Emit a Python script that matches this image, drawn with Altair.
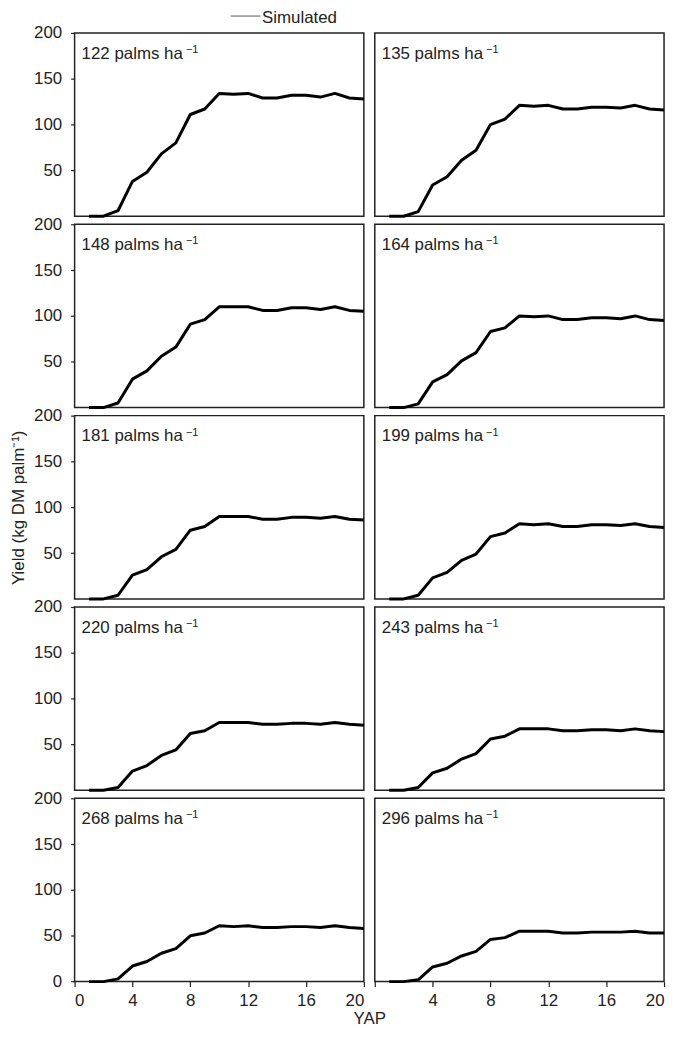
import altair as alt
import pandas as pd

years = [1, 2, 3, 4, 5, 6, 7, 8, 9, 10, 11, 12, 13, 14, 15, 16, 17, 18, 19, 20]
densities = ["122", "135", "148", "164", "181", "199", "220", "243", "268", "296"]
legend_labels = ["Simulated"]

y122 = [0, 0, 6, 38, 48, 68, 80, 111, 117, 134, 133, 134, 129, 129, 132, 132, 130, 134, 129, 128]
y135 = [0, 0, 5, 34, 43, 61, 72, 100, 106, 121, 120, 121, 117, 117, 119, 119, 118, 121, 117, 116]
y148 = [0, 0, 5, 31, 40, 56, 66, 91, 96, 110, 110, 110, 106, 106, 109, 109, 107, 110, 106, 105]
y164 = [0, 0, 4, 28, 36, 51, 60, 83, 87, 100, 99, 100, 96, 96, 98, 98, 97, 100, 96, 95]
y181 = [0, 0, 4, 26, 32, 46, 54, 75, 79, 90, 90, 90, 87, 87, 89, 89, 88, 90, 87, 86]
y199 = [0, 0, 4, 23, 29, 42, 49, 68, 72, 82, 81, 82, 79, 79, 81, 81, 80, 82, 79, 78]
y220 = [0, 0, 3, 21, 27, 38, 44, 62, 65, 74, 74, 74, 72, 72, 73, 73, 72, 74, 72, 71]
y243 = [0, 0, 3, 19, 24, 34, 40, 56, 59, 67, 67, 67, 65, 65, 66, 66, 65, 67, 65, 64]
y268 = [0, 0, 3, 17, 22, 31, 36, 50, 53, 61, 60, 61, 59, 59, 60, 60, 59, 61, 59, 58]
y296 = [0, 0, 2, 16, 20, 28, 33, 46, 48, 55, 55, 55, 53, 53, 54, 54, 54, 55, 53, 53]
series = [y122, y135, y148, y164, y181, y199, y220, y243, y268, y296]

x_ticks = [0, 4, 8, 12, 16, 20]
y_ticks_full = [0, 50, 100, 150, 200]
y_ticks_upper = [50, 100, 150, 200]

FONT = "Liberation Sans"
W, H = 291, 184.4
INK = "#222222"
FS = 17


def panel(i):
    row, col = divmod(i, 2)
    left = col == 0
    bottom = row == 4
    df = pd.DataFrame({"YAP": years, "Yield": series[i]})

    if bottom and left:
        xaxis = alt.Axis(values=x_ticks, title="YAP", titleX=W + 5.5)
    elif bottom:
        xaxis = alt.Axis(values=x_ticks, title=None,
                         labelExpr="datum.value == 0 ? '' : datum.label")
    else:
        xaxis = None

    if left:
        if row == 2:
            yaxis = alt.Axis(values=y_ticks_upper, title="Yield (kg DM palm⁻¹)")
        else:
            yaxis = alt.Axis(values=y_ticks_full if bottom else y_ticks_upper, title=None)
    else:
        yaxis = None

    line = alt.Chart(df).mark_line(strokeWidth=3, strokeJoin="round", color="black").encode(
        x=alt.X("YAP:Q", scale=alt.Scale(domain=[0, 20], nice=False), axis=xaxis),
        y=alt.Y("Yield:Q", scale=alt.Scale(domain=[0, 200], nice=False), axis=yaxis),
    )
    lab = pd.DataFrame({"label": [densities[i] + " palms ha"], "sup": ["−1"]})
    text = alt.Chart(lab).mark_text(
        align="left", baseline="alphabetic", fontSize=FS, font=FONT, color=INK
    ).encode(text="label:N", x=alt.value(7), y=alt.value(26))
    sup = alt.Chart(lab).mark_text(
        align="left", baseline="alphabetic", fontSize=11, font=FONT, color=INK
    ).encode(text="sup:N", x=alt.value(112), y=alt.value(20))
    layers = [line, text, sup]

    if i == 0:
        leg = pd.DataFrame({"name": legend_labels})
        leg_line = alt.Chart(leg).mark_rule(color="#555555", strokeWidth=1).encode(
            x=alt.value(157), x2=alt.value(187), y=alt.value(-17)
        )
        leg_text = alt.Chart(leg).mark_text(
            align="left", baseline="middle", fontSize=FS, font=FONT, color=INK
        ).encode(text="name:N", x=alt.value(188.5), y=alt.value(-15))
        layers += [leg_line, leg_text]

    return alt.layer(*layers).properties(width=W, height=H)


chart = alt.concat(
    *[panel(i) for i in range(10)],
    columns=2,
    spacing={"row": 7.5, "column": 11},
    bounds="flush",
).properties(
    padding={"left": 0, "top": -3, "right": 5, "bottom": 0}
).configure_view(
    stroke=INK, strokeWidth=1.5
).configure_axis(
    labelFont=FONT, titleFont=FONT, labelFontSize=FS, titleFontSize=FS,
    titleFontWeight="normal", labelColor=INK, titleColor=INK,
    domain=False, grid=False, tickColor=INK, tickWidth=1.2,
).configure_axisY(
    titlePadding=6, tickSize=4, labelPadding=9
).configure_axisX(
    tickSize=5, labelPadding=6, titlePadding=2
)

chart.save("out.html", embed_options={"renderer": "svg", "actions": False})
